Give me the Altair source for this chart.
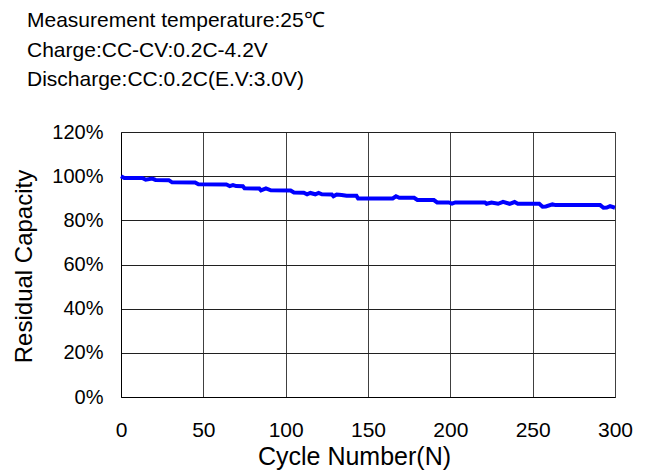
import altair as alt
import pandas as pd

cycles = [0, 2, 13, 15, 19, 21, 29, 31, 45, 47, 64, 66, 68, 70, 74, 75, 84, 85, 88, 91,
          103, 105, 111, 113, 115, 118, 120, 122, 128, 129, 131, 134, 137, 143, 144, 165,
          167, 169, 178, 180, 190, 192, 199, 201, 203, 221, 222, 225, 229, 232, 236, 239,
          241, 254, 256, 258, 262, 264, 291, 293, 295, 297, 300]
capacity = [100, 99.2, 99.2, 98.4, 98.9, 98.3, 98.2, 97.2, 97.1, 96.3, 96.2, 95.5, 96.0,
            95.5, 95.4, 94.5, 94.4, 93.6, 94.5, 93.6, 93.5, 92.6, 92.5, 91.8, 92.4, 91.8,
            92.4, 91.8, 91.7, 90.9, 91.7, 91.5, 91.1, 91.1, 89.9, 89.9, 90.9, 90.2, 90.2,
            89.2, 89.2, 88.1, 88.1, 87.6, 88.1, 88.1, 87.5, 88.1, 87.5, 88.4, 87.5, 88.3,
            87.5, 87.5, 86.2, 86.3, 87.2, 86.9, 86.9, 85.7, 85.8, 86.4, 85.7]

x_ticks = [0, 50, 100, 150, 200, 250, 300]
y_ticks = [0, 0.2, 0.4, 0.6, 0.8, 1.0, 1.2]

notes = [
    "Measurement temperature:25\u2103",
    "Charge:CC-CV:0.2C-4.2V",
    "Discharge:CC:0.2C(E.V:3.0V)",
]

df = pd.DataFrame({"cycle": cycles, "cap": [c / 100 for c in capacity]})
notes_df = pd.DataFrame({"t": notes, "i": list(range(len(notes)))})

FONT = "Liberation Sans"
W, H = 494, 265

line = alt.Chart(df).mark_line(color="#0000FF", strokeWidth=4, interpolate="linear").encode(
    x=alt.X("cycle:Q", scale=alt.Scale(domain=[0, 300], nice=False),
            axis=alt.Axis(values=x_ticks, title="Cycle Number(N)", grid=True,
                          gridColor="#404040", gridWidth=1, ticks=False, labelFlush=False,
                          domainColor="#000000", labelFont=FONT, labelFontSize=21,
                          labelColor="#000", labelPadding=22, titleFont=FONT,
                          titleFontSize=25, titleFontWeight="normal", titleColor="#000",
                          titleX=233, titleY=59, titleBaseline="middle",
                          titleAlign="center")),
    y=alt.Y("cap:Q", scale=alt.Scale(domain=[0, 1.2], nice=False),
            axis=alt.Axis(values=y_ticks, format=".0%", title="Residual Capacity",
                          grid=True, gridColor="#202020", gridWidth=1, ticks=False,
                          labelFlush=False,
                          domainColor="#000000", labelFont=FONT, labelFontSize=20,
                          labelColor="#000", labelPadding=18, titleFont=FONT,
                          titleFontSize=24, titleFontWeight="normal", titleColor="#000",
                          titleX=-97, titleY=134, titleBaseline="middle",
                          titleAlign="center", titleAngle=270)),
)

text = alt.Chart(notes_df).mark_text(align="left", baseline="middle", font=FONT,
                                     fontSize=21, color="#000").encode(
    x=alt.value(-94),
    y=alt.Y("i:O", scale=alt.Scale(range=[-111, -52], padding=0), axis=None),
    text="t:N",
)

chart = alt.layer(line, text).properties(
    width=W, height=H,
    autosize=alt.AutoSizeParams(type="none"),
    padding={"left": 113, "top": 124, "right": 24, "bottom": 73},
).configure_view(stroke="#888888", strokeWidth=1.5).configure(background="white")

chart.save("out.html", embed_options={"renderer": "svg", "actions": False})
